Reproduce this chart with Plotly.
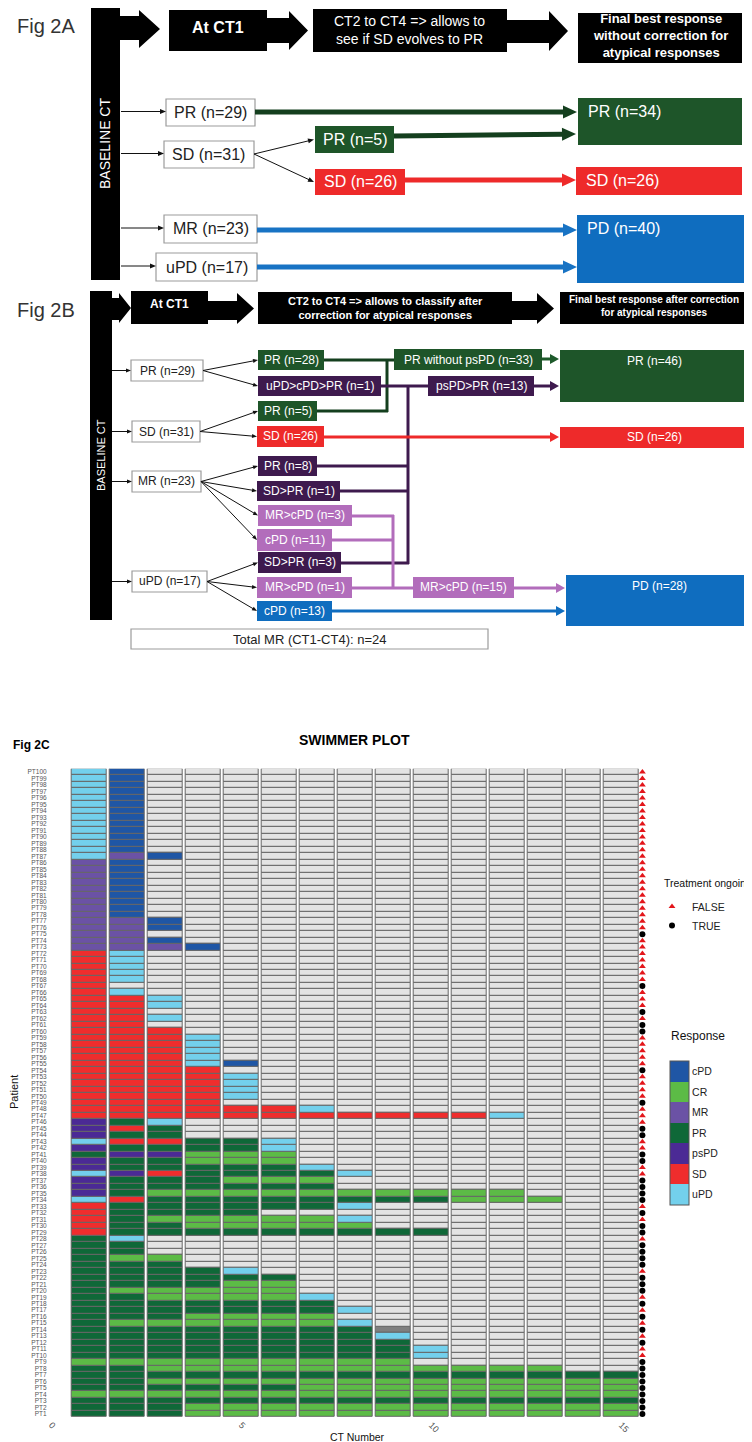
import math
import plotly.graph_objects as go

W, H = 752, 1442
FONT = "Liberation Sans, Arial, sans-serif"

# ---------------- Fig 2C swimmer plot data ----------------
response_labels = ["cPD", "CR", "MR", "PR", "psPD", "SD", "uPD"]
response_colors = ["#1f56a5", "#5cbb46", "#6b52a5", "#0f6838", "#4b2a95", "#ef2d2d", "#73d0ec"]
# one letter per CT scan: C=cPD R=CR M=MR P=PR X=psPD S=SD U=uPD N=missing
letter_to_response = {"C": "cPD", "R": "CR", "M": "MR", "P": "PR", "X": "psPD",
                      "S": "SD", "U": "uPD", "N": "NA"}

patients = [f"PT{i}" for i in range(1, 101)]
scans = [
    "PPPRRRRRRRRRRRR", "PPPRRRRRRRRRRRR", "PPPPPPPPPPPPPPP", "RRRRRRRRRRRRRRR", "PPPPPPRRRRRRRRR",
    "PPRRRRRRRRRRRRR", "PPPPPPPPPPPPPPP", "PPRRRRRRRRRRR", "RRRRRRRRR", "PPPPPPPPPU",
    "PPPPPPPPPU", "PPPPPPPPP", "PPPPPPPPU", "PPPPPPPPN", "PRRRRRRU",
    "PPPRRRR", "PPPPPPPU", "PPPPPPP", "PPRRRRU", "PRRRRR",
    "PPPPRR", "PPPPPP", "PPPPU", "PPP", "PRR",
    "PP", "PP", "PU", "SPPPPPPPPP", "SPPRRRRR",
    "SPRRRRRU", "SPPPP", "SPPPPPPU", "USPPPPPPPPRRR", "XPRRRRRRRRRR",
    "XPPPPPP", "XPPPRRR", "UXSPPPPU", "XPPPPPU", "XPPRRR",
    "PXXRRR", "XPPPPU", "USSPPU", "XPP", "XSP",
    "XPU", "SSSSSSSSSSSU", "SSSSSSU", "SSSS", "SSSSU",
    "SSSSU", "SSSSU", "SSSSU", "SSSS", "SSSUC",
    "SSSU", "SSSU", "SSSU", "SSSU", "SSS",
    "SS", "SSU", "SS", "SSU", "SSU",
    "SU", "S", "SU", "SU", "SU",
    "SU", "SU", "MMMC", "MMC", "MM",
    "MMC", "MMC", "MC", "MC", "MC",
    "MC", "MC", "MC", "MC", "MC",
    "MC", "UMC", "UC", "UC", "UC",
    "UC", "UC", "UC", "UC", "UC",
    "UC", "UC", "UC", "UC", "UC",
]
ongoing = list(
    "TTTTTTTTTF" "FTFTFTFTFT" "TTFTTTTFTT" "FTFTTTTFFT" "TFFTTFFFTF"
    "FFFTFFFFFT" "TFTFFFTFFF" "FFFFTFFFFF" "FFFFFFFFFF" "FFFFFFFFFF"
)
ct_numbers = list(range(1, 16))
x_ticks = [0, 5, 10, 15]

# ---------------- Fig 2A / 2B flowchart texts ----------------
a_headers = ["At CT1", "CT2 to CT4 => allows to<br>see if SD evolves to PR",
             "Final best response<br>without correction for<br>atypical responses"]
a_start = ["PR (n=29)", "SD (n=31)", "MR (n=23)", "uPD (n=17)"]
a_mid = ["PR (n=5)", "SD (n=26)"]
a_final = ["PR (n=34)", "SD (n=26)", "PD (n=40)"]

b_headers = ["At CT1", "CT2 to CT4 => allows to classify after<br>correction for atypical responses",
             "Final best response after correction<br>for atypical responses"]
b_start = ["PR (n=29)", "SD (n=31)", "MR (n=23)", "uPD (n=17)"]
b_mid = ["PR (n=28)", "uPD>cPD>PR (n=1)", "PR (n=5)", "SD (n=26)", "PR (n=8)", "SD>PR (n=1)",
         "MR>cPD (n=3)", "cPD (n=11)", "SD>PR (n=3)", "MR>cPD (n=1)", "cPD (n=13)"]
b_merge = ["PR without psPD (n=33)", "psPD>PR (n=13)", "MR>cPD (n=15)"]
b_final = ["PR (n=46)", "SD (n=26)", "PD (n=28)"]
b_total = "Total MR (CT1-CT4): n=24"

GREEN = "#1e5529"
GREEN_LINE = "#143f1e"
RED = "#ee2a2a"
BLUE = "#0f6dbf"
DPURPLE = "#3e1a4e"
LAVENDER = "#b26dbb"


def X(p):
    return p / W


def Y(p):
    return 1 - p / H


shapes = []
annotations = []


def rect(x0, y0, x1, y1, fill, edge=None, lw=1):
    shapes.append(dict(type="rect", xref="paper", yref="paper",
                       x0=X(x0), x1=X(x1), y0=Y(y1), y1=Y(y0), fillcolor=fill,
                       line=dict(color=edge if edge else fill, width=lw if edge else 0)))


def poly(pts, fill):
    path = "M " + " L ".join(f"{X(a):.5f},{Y(b):.5f}" for a, b in pts) + " Z"
    shapes.append(dict(type="path", xref="paper", yref="paper", path=path,
                       fillcolor=fill, line=dict(width=0)))


def seg(x0, y0, x1, y1, color, lw):
    shapes.append(dict(type="line", xref="paper", yref="paper",
                       x0=X(x0), y0=Y(y0), x1=X(x1), y1=Y(y1), line=dict(color=color, width=lw)))


def arrow(x0, y0, x1, y1, color, lw=1, hl=6, hw=5):
    L = math.hypot(x1 - x0, y1 - y0)
    ux, uy = (x1 - x0) / L, (y1 - y0) / L
    bx, by = x1 - ux * hl, y1 - uy * hl
    seg(x0, y0, bx + ux, by + uy, color, lw)
    nx, ny = -uy * hw / 2, ux * hw / 2
    poly([(x1, y1), (bx + nx, by + ny), (bx - nx, by - ny)], color)


def label(x, y, s, size, color="white", bold=False, anchor="center", angle=0):
    annotations.append(dict(x=X(x), y=Y(y), xref="paper", yref="paper",
                            text=f"<b>{s}</b>" if bold else s, showarrow=False,
                            xanchor=anchor, yanchor="middle", textangle=angle,
                            font=dict(size=size, color=color, family=FONT)))


def node(box, text, fill, size, ty=None, tx=None, anchor="center"):
    x0, y0, x1, y1 = box
    if fill == "white":
        rect(x0, y0, x1, y1, "white", "#9c9c9c", 1.2)
        color = "#222222"
    else:
        rect(x0, y0, x1, y1, fill)
        color = "white"
    label(tx if tx is not None else (x0 + x1) / 2, ty if ty is not None else (y0 + y1) / 2,
          text, size, color, anchor=anchor)


def block_arrow(x0, hx, tip, body, head):
    (bt, bb), (ht, hb) = body, head
    poly([(x0, bt), (hx, bt), (hx, ht), (tip, (ht + hb) / 2), (hx, hb), (hx, bb), (x0, bb)], "black")


# ---------------- Fig 2A ----------------
label(7, 18, "Fig 2A", 20, "#333333", anchor="left")
rect(83, 0, 112, 272, "black")
label(97, 136, "BASELINE CT", 14, "white", angle=-90)
block_arrow(112, 131, 152, (8, 32), (2, 40))
rect(161, 2, 259, 43, "black")
block_arrow(258, 281, 300, (10, 35), (3, 42))
rect(305, 1, 499, 44, "black")
block_arrow(498, 541, 560, (12, 35), (3, 43))
rect(570, 5, 734, 55, "black")
label(210, 20, a_headers[0], 16, bold=True)
label(402, 22, a_headers[1], 14)
label(652, 28, a_headers[2], 13, bold=True)

a_start_boxes = [(158, 91, 247, 118), (156, 133, 246, 160), (156, 207, 249, 235), (148, 245, 249, 273)]
for box, txt in zip(a_start_boxes, a_start):
    node(box, txt, "white", 16)
    yc = (box[1] + box[3]) / 2
    arrow(113, yc - 1, box[0], yc - 1, "#111111")
a_mid_boxes = [(307, 118, 386, 145), (307, 161, 397, 187)]
for box, txt, col in zip(a_mid_boxes, a_mid, [GREEN, RED]):
    node(box, txt, col, 16)
    arrow(246, 146, box[0] - 1, (box[1] + box[3]) / 2, "#111111")
a_final_boxes = [(570, 90, 734, 137), (568, 159, 734, 187), (569, 207, 737, 275)]
for box, txt, col in zip(a_final_boxes, a_final, [GREEN, RED, BLUE]):
    node(box, txt, col, 16, ty=box[1] + 14, tx=box[0] + 8, anchor="left")
arrow(247, 104, 569, 104, GREEN_LINE, 5, 14, 13)
arrow(386, 128, 568, 126, GREEN_LINE, 5, 14, 13)
arrow(397, 172, 568, 172, RED, 5, 14, 13)
arrow(249, 222, 569, 222, "#1873c4", 5, 14, 13)
arrow(249, 259, 569, 259, "#1873c4", 5, 14, 13)

# ---------------- Fig 2B ----------------
label(7, 302, "Fig 2B", 20, "#333333", anchor="left")
rect(82, 283, 104, 612, "black")
label(93, 447, "BASELINE CT", 11, "white", angle=-90)
block_arrow(103, 111, 123, (290, 312), (285, 315))
rect(123, 283, 200, 316, "black")
block_arrow(199, 229, 246, (293, 312), (285, 316))
rect(250, 284, 504, 316, "black")
block_arrow(503, 529, 546, (293, 312), (285, 316))
rect(552, 284, 740, 316, "black")
label(161, 296, b_headers[0], 12, bold=True)
label(377, 300, b_headers[1], 11, bold=True)
label(646, 298, b_headers[2], 10, bold=True)

b_start_boxes = [(123, 352, 195, 373), (124, 413, 192, 434), (124, 463, 193, 484), (124, 563, 199, 584)]
for box, txt in zip(b_start_boxes, b_start):
    node(box, txt, "white", 12)
    arrow(104, (box[1] + box[3]) / 2, box[0], (box[1] + box[3]) / 2, "#111111", 1, 5, 4)

b_mid_boxes = [(250, 342, 316, 362), (250, 368, 373, 388), (250, 393, 309, 413), (249, 418, 316, 439),
               (250, 448, 309, 468), (249, 473, 332, 493), (250, 497, 344, 518), (249, 521, 324, 543),
               (250, 544, 333, 565), (249, 569, 344, 590), (249, 593, 324, 613)]
b_mid_colors = [GREEN, DPURPLE, GREEN, RED, DPURPLE, DPURPLE, LAVENDER, LAVENDER, DPURPLE, LAVENDER, BLUE]
b_mid_parent = [0, 0, 1, 1, 2, 2, 2, 2, 3, 3, 3]

# connector lines between mid boxes and merged boxes
seg(316, 352, 388, 352, GREEN_LINE, 3)
seg(309, 403, 380, 403, GREEN_LINE, 3)
seg(379, 404, 379, 351, GREEN_LINE, 3)
seg(373, 378, 420, 378, DPURPLE, 3)
seg(400, 377, 400, 556, DPURPLE, 3)
seg(309, 458, 400, 458, DPURPLE, 3)
seg(332, 483, 400, 483, DPURPLE, 3)
seg(333, 555, 401, 555, DPURPLE, 3)
seg(344, 508, 386, 508, LAVENDER, 3)
seg(324, 532, 385, 532, LAVENDER, 3)
seg(385, 507, 385, 581, LAVENDER, 3)
seg(344, 580, 405, 580, LAVENDER, 3)

for box, txt, col, par in zip(b_mid_boxes, b_mid, b_mid_colors, b_mid_parent):
    node(box, txt, col, 12)
    pb = b_start_boxes[par]
    arrow(pb[2], (pb[1] + pb[3]) / 2, box[0], (box[1] + box[3]) / 2, "#111111", 1, 5, 4)

b_merge_boxes = [(386, 341, 534, 362), (420, 368, 526, 388), (405, 569, 506, 590)]
for box, txt, col in zip(b_merge_boxes, b_merge, [GREEN, DPURPLE, LAVENDER]):
    node(box, txt, col, 12)

b_final_boxes = [(552, 342, 740, 394), (552, 419, 740, 440), (558, 567, 745, 618)]
for box, txt, col in zip(b_final_boxes, b_final, [GREEN, RED, BLUE]):
    ty = (box[1] + box[3]) / 2 if box[3] - box[1] < 30 else box[1] + 11
    node(box, txt, col, 12, ty=ty)

arrow(534, 351, 551, 351, "#1e5a2b", 3, 9, 10)
arrow(526, 378, 551, 378, DPURPLE, 3, 9, 10)
arrow(316, 429, 551, 429, RED, 3, 9, 10)
arrow(506, 580, 557, 580, LAVENDER, 3, 9, 10)
arrow(324, 603, 557, 603, BLUE, 3, 9, 10)

node((123, 621, 480, 641), b_total, "white", 13)

# ---------------- Fig 2C swimmer plot ----------------
label(3, 737, "Fig 2C", 12, "black", bold=True, anchor="left")
label(346, 732, "SWIMMER PLOT", 14, "black", bold=True)
label(349, 1429, "CT Number", 10.5, "#111111")
label(6, 1084, "Patient", 11, "#111111", angle=-90)
label(654, 875, "Treatment ongoing", 10.5, "#111111", anchor="left")
label(661, 1028, "Response", 12, "#111111", anchor="left")

tile_w = 0.92
edge = "#666666"
n_resp = len(response_labels)
col_y, col_base, col_val = [], [], []
grey_y, grey_base, grey_fill = [], [], []
for pt, s in zip(patients, scans):
    for ct in ct_numbers:
        code = s[ct - 1] if ct <= len(s) else None
        resp = letter_to_response.get(code)
        if resp in response_labels:
            col_y.append(pt)
            col_base.append(ct - tile_w / 2)
            col_val.append(n_resp - 1 - response_labels.index(resp))
        else:
            grey_y.append(pt)
            grey_base.append(ct - tile_w / 2)
            grey_fill.append("#7f7f7f" if resp == "NA" else "#e3e3e3")

colorscale = []
for k, c in enumerate(reversed(response_colors)):
    colorscale += [[k / n_resp, c], [(k + 1) / n_resp, c]]

fig = go.Figure()
fig.add_trace(go.Bar(orientation="h", y=grey_y, x=[tile_w] * len(grey_y), base=grey_base, width=1,
                     marker=dict(color=grey_fill, line=dict(color=edge, width=1)),
                     showlegend=False, hoverinfo="skip"))
fig.add_trace(go.Bar(orientation="h", y=col_y, x=[tile_w] * len(col_y), base=col_base, width=1,
                     marker=dict(color=col_val, colorscale=colorscale, cmin=-0.5, cmax=n_resp - 0.5,
                                 line=dict(color=edge, width=1), showscale=True,
                                 colorbar=dict(x=X(662), xanchor="left", y=Y(1125), yanchor="middle",
                                               len=144, lenmode="pixels", thickness=19,
                                               thicknessmode="pixels", xpad=0, ypad=0,
                                               outlinewidth=1, outlinecolor="#555555",
                                               tickvals=list(range(n_resp)),
                                               ticktext=list(reversed(response_labels)), ticks="",
                                               tickfont=dict(size=10.5, color="#222222", family=FONT))),
                     showlegend=False, hoverinfo="skip"))

for flag, name, sym, color in [("F", "FALSE", "triangle-up", "#e3161b"), ("T", "TRUE", "circle", "black")]:
    ys = [p for p, o in zip(patients, ongoing) if o == flag]
    fig.add_trace(go.Scatter(x=[15.55] * len(ys), y=ys, mode="markers", name=name,
                             marker=dict(symbol=sym, size=6, color=color), cliponaxis=False,
                             hoverinfo="skip"))

fig.update_layout(
    width=W, height=H,
    margin=dict(l=0, r=0, t=0, b=0, autoexpand=False),
    paper_bgcolor="white", plot_bgcolor="rgba(0,0,0,0)",
    barmode="overlay", bargap=0,
    font=dict(family=FONT),
    shapes=shapes, annotations=annotations,
    xaxis=dict(domain=[X(39.7), X(642)], range=[-0.1, 15.75], tickvals=x_ticks, tickangle=45,
               tickfont=dict(size=9, color="#555555"), showgrid=False, zeroline=False,
               showline=False, ticks="", automargin=False, fixedrange=True),
    yaxis=dict(domain=[Y(1409.2), Y(760.8)], type="category", categoryorder="array",
               categoryarray=patients, range=[-0.5, 99.5], tickmode="linear", tick0=0, dtick=1,
               tickfont=dict(size=6.5, color="#555555"), showgrid=False, zeroline=False,
               ticks="", automargin=False, fixedrange=True),
    legend=dict(x=X(644), y=Y(884), xanchor="left", yanchor="top", itemwidth=30,
                font=dict(size=10.5, color="#222222"), bgcolor="rgba(0,0,0,0)", tracegroupgap=0),
)

fig.write_html("out.html")
